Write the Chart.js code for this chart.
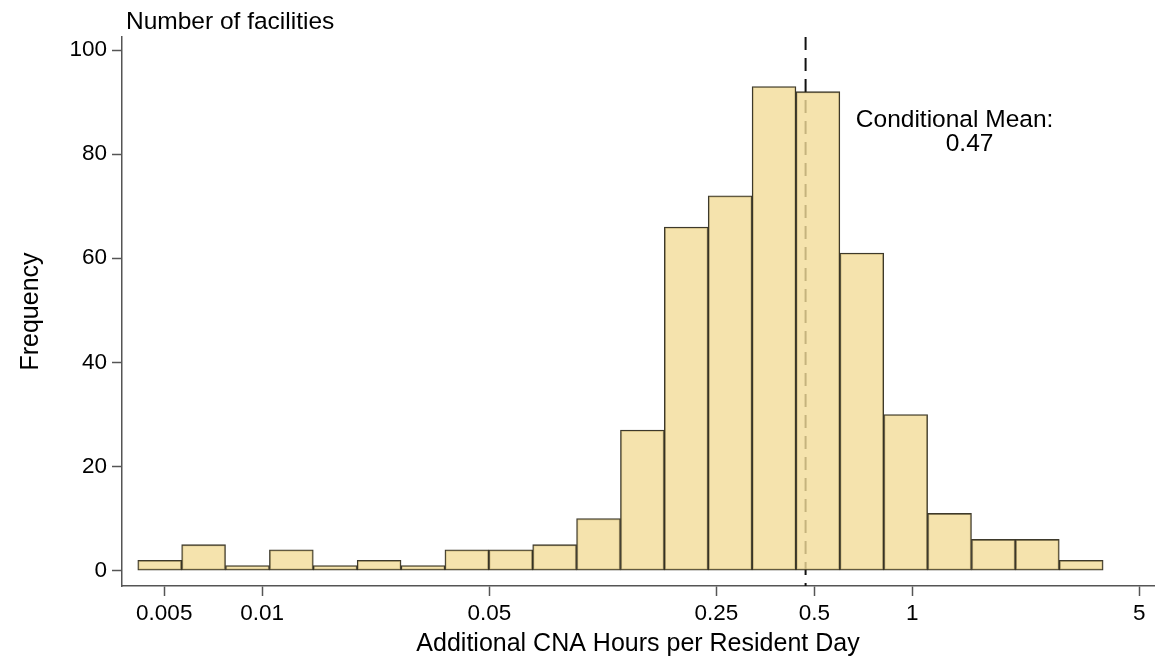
<!DOCTYPE html>
<html>
<head>
<meta charset="utf-8">
<script src="https://cdn.jsdelivr.net/npm/chart.js@4"></script>
<style>
    html, body { margin: 0; padding: 0; background: #fff; }
    #wrap { width: 1175px; height: 660px; }
</style>
</head>
<body>
<div id="wrap"><canvas id="hist"></canvas></div>
<script>
// bin centres, log10 of CNA hours per resident day
const binCenters = [-2.315, -2.180, -2.045, -1.910, -1.775, -1.640, -1.505, -1.370, -1.235, -1.100, -0.965,
                    -0.830, -0.695, -0.560, -0.425, -0.290, -0.155, -0.020, 0.115, 0.250, 0.385, 0.520];
const counts = [2, 5, 1, 4, 1, 2, 1, 4, 4, 5, 10, 27, 66, 72, 93, 92, 61, 30, 11, 6, 6, 2];

const xTickValues = [0.005, 0.01, 0.05, 0.25, 0.5, 1, 5];
const xTickLabels = ['0.005', '0.01', '0.05', '0.25', '0.5', '1', '5'];
const yTickValues = [0, 20, 40, 60, 80, 100];

const meanValue = 0.47;
const meanLabel = ['Conditional Mean:', '0.47'];

const FONT = 'Liberation Sans, Arial, Helvetica, sans-serif';
const axisColor = '#555';

// dashed mean line, drawn under the bars so it shows through them
const meanLinePlugin = {
    id: 'meanLine',
    beforeDatasetsDraw(chart) {
        const ctx = chart.ctx;
        const x = chart.scales.x.getPixelForValue(Math.log10(meanValue));
        ctx.save();
        ctx.strokeStyle = '#111';
        ctx.lineWidth = 2;
        ctx.setLineDash([13, 8]);
        ctx.beginPath();
        ctx.moveTo(x, chart.chartArea.top);
        ctx.lineTo(x, chart.chartArea.bottom);
        ctx.stroke();
        ctx.restore();
    },
    afterDraw(chart) {
        const ctx = chart.ctx;
        const x = chart.scales.x.getPixelForValue(Math.log10(meanValue));
        ctx.save();
        ctx.fillStyle = '#000';
        ctx.font = '24.5px ' + FONT;
        ctx.textAlign = 'center';
        ctx.textBaseline = 'alphabetic';
        ctx.fillText(meanLabel[0], x + 149, 127);
        ctx.fillText(meanLabel[1], x + 164, 151);
        // note above the y axis
        ctx.textAlign = 'left';
        ctx.fillText('Number of facilities', 126, 29);
        ctx.restore();
    }
};

const ctx = document.getElementById('hist').getContext('2d');
new Chart(ctx, {
    type: 'bar',
    data: {
        datasets: [{
            data: binCenters.map((c, i) => ({ x: c, y: counts[i] })),
            backgroundColor: 'rgba(242, 220, 152, 0.8)',
            borderColor: 'rgba(40, 35, 20, 0.9)',
            borderWidth: 1.3,
            borderSkipped: false,
            barPercentage: 1,
            categoryPercentage: 1,
            grouped: false
        }]
    },
    options: {
        responsive: true,
        maintainAspectRatio: false,
        animation: false,
        layout: { padding: { top: 37, right: 21, left: 0, bottom: 0 } },
        plugins: {
            legend: { display: false },
            tooltip: { enabled: false }
        },
        scales: {
            x: {
                type: 'linear',
                min: -2.431,
                max: 0.744,
                offset: false,
                afterBuildTicks: s => { s.ticks = xTickValues.map(v => ({ value: Math.log10(v) })); },
                afterFit: s => { s.height = 74; },
                ticks: {
                    autoSkip: false,
                    maxRotation: 0,
                    padding: 4,
                    color: '#000',
                    font: { family: FONT, size: 22.5 },
                    callback: (v, i) => xTickLabels[i]
                },
                grid: { display: true, offset: false, drawOnChartArea: false, drawTicks: true, tickLength: 10, tickColor: axisColor, tickWidth: 1.5 },
                border: { display: true, color: axisColor, width: 1.5 },
                title: {
                    display: true,
                    text: 'Additional CNA Hours per Resident Day',
                    color: '#000',
                    font: { family: FONT, size: 25 },
                    padding: { top: 0, bottom: 1 }
                }
            },
            y: {
                min: -2.94,
                max: 102.5,
                afterBuildTicks: s => { s.ticks = yTickValues.map(v => ({ value: v })); },
                afterFit: s => { s.width = 122; },
                ticks: {
                    padding: 5,
                    color: '#000',
                    font: { family: FONT, size: 22.5 }
                },
                grid: { display: true, drawOnChartArea: false, drawTicks: true, tickLength: 10, tickColor: axisColor, tickWidth: 1.5 },
                border: { display: true, color: axisColor, width: 1.5 },
                title: {
                    display: true,
                    text: 'Frequency',
                    color: '#000',
                    font: { family: FONT, size: 25 },
                    padding: { top: 16, bottom: 0 }
                }
            }
        }
    },
    plugins: [meanLinePlugin]
});
</script>
</body>
</html>
